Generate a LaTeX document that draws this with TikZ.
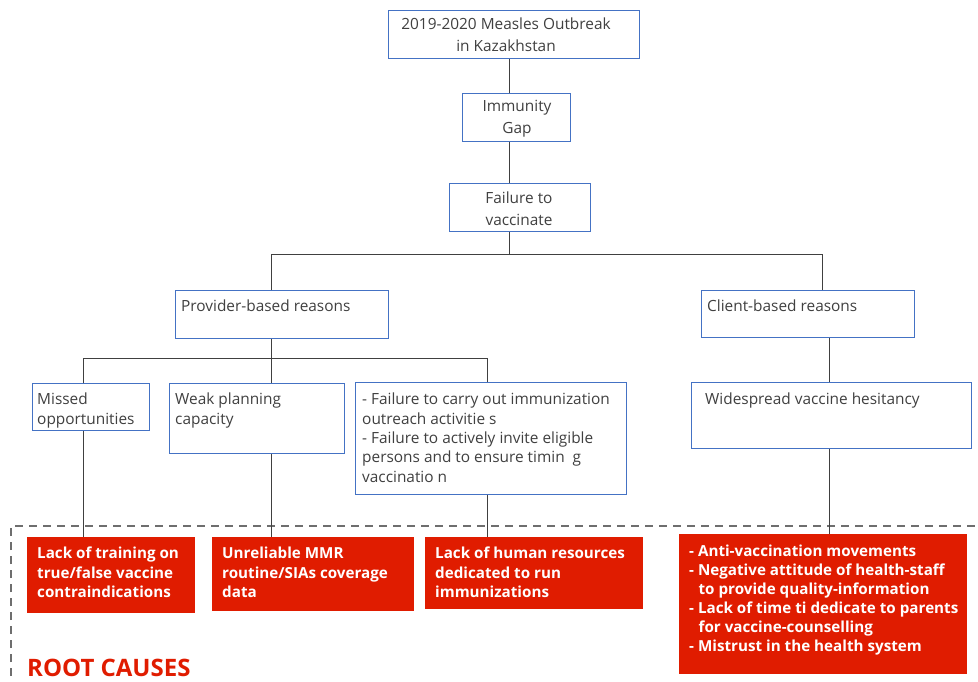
\documentclass[tikz,border=0pt]{standalone}
\usepackage{fontspec}
\setmainfont{Open Sans}
\definecolor{boxblue}{RGB}{68,114,196}
\definecolor{txtgray}{RGB}{64,64,64}
\definecolor{rootred}{RGB}{224,28,0}
\definecolor{dashgray}{RGB}{110,110,110}
\begin{document}
\begin{tikzpicture}[x=1pt,y=-1pt,
  box/.style={draw=boxblue,line width=1pt,fill=white,inner sep=0pt,anchor=north west},
  redbox/.style={fill=rootred,draw=none,inner sep=0pt,anchor=north west},
  btext/.style={text=txtgray,font=\fontsize{15.4}{19.3}\selectfont,inner sep=0pt,anchor=north west,align=left},
  ctext/.style={text=txtgray,font=\fontsize{15.4}{22}\selectfont,inner sep=0pt,align=center},
  rtext/.style={text=white,font=\bfseries\fontsize{15.2}{19.3}\selectfont,inner sep=0pt,anchor=north west,align=left},
  link/.style={draw=txtgray,line width=0.9pt}]
\useasboundingbox (0,0) rectangle (978,681);
% root-cause frame
\draw[dashgray,line width=1.3pt,dash pattern=on 8pt off 6pt] (11,690) -- (11,526) -- (990,526);
% boxes
\node[box,minimum width=251pt,minimum height=48pt] (top) at (388,10) {};
\node[box,minimum width=108pt,minimum height=48pt] (imm) at (462,93) {};
\node[box,minimum width=141pt,minimum height=48pt] (fail) at (449,183) {};
\node[box,minimum width=213pt,minimum height=48pt] (prov) at (175,290) {};
\node[box,minimum width=213pt,minimum height=47pt] (cli) at (701,290) {};
\node[box,minimum width=117pt,minimum height=47pt] (miss) at (32,383) {};
\node[box,minimum width=175pt,minimum height=70pt] (weak) at (169,383) {};
\node[box,minimum width=271pt,minimum height=112pt] (out) at (355,382) {};
\node[box,minimum width=280pt,minimum height=66pt] (hes) at (691,382) {};
\node[redbox,minimum width=168pt,minimum height=76pt] (r1) at (27,537) {};
\node[redbox,minimum width=202pt,minimum height=74pt] (r2) at (212,537) {};
\node[redbox,minimum width=218pt,minimum height=72pt] (r3) at (425,537) {};
\node[redbox,minimum width=288pt,minimum height=140pt] (r4) at (679,534) {};
% texts
\node[ctext] (ttop) at (506,34.5) {2019-2020 Measles Outbreak\\in Kazakhstan};
\node[ctext] (timm) at (517,119) {Immunity\\Gap};
\node[ctext] (tfail) at (519,209) {Failure to\\vaccinate};
\node[btext] (tprov) at (181,300) {Provider-based reasons};
\node[btext] (tcli) at (707,300) {Client-based reasons};
\node[btext] (tmiss) at (37,393) {Missed\\opportunities};
\node[btext] (tweak) at (175,393) {Weak planning\\capacity};
\node[btext] (tout) at (362,393) {- Failure to carry out immunization\\outreach activitie s\\- Failure to actively invite eligible\\persons and to ensure timin\ \ g\\vaccinatio n};
\node[btext] (thes) at (705,393) {Widespread vaccine hesitancy};
\node[rtext] (tr1) at (37,547) {Lack of training on\\true/false vaccine\\contraindications};
\node[rtext] (tr2) at (222,547) {Unreliable MMR\\routine/SIAs coverage\\data};
\node[rtext] (tr3) at (435,547) {Lack of human resources\\dedicated to run\\immunizations};
\node[rtext,font=\bfseries\fontsize{15.2}{19}\selectfont] (tr4) at (689,545) {- Anti-vaccination movements\\- Negative attitude of health-staff\\\hspace*{0.62em}to provide quality-information\\- Lack of time ti dedicate to parents\\\hspace*{0.62em}for vaccine-counselling\\- Mistrust in the health system};
\node[text=rootred,font=\bfseries\fontsize{24}{28}\selectfont,inner sep=0pt,anchor=base west] (root) at (27,676) {ROOT CAUSES};
% connectors
\coordinate (trunk) at (509,0);
\coordinate (jA) at (271,254);
\coordinate (jB) at (822,254);
\coordinate (jC) at (83,358);
\coordinate (jD) at (487,358);
\coordinate (jH) at (829,0);
\draw[link] (trunk |- top.south) -- (trunk |- imm.north);
\draw[link] (trunk |- imm.south) -- (trunk |- fail.north);
\draw[link] (trunk |- fail.south) -- (trunk |- jA);
\draw[link] (jA |- prov.north) -- (jA) -- (jB) -- (jB |- cli.north);
\draw[link] (jA |- prov.south) -- (jA |- jC);
\draw[link] (jC |- miss.north) -- (jC) -- (jD) -- (jD |- out.north);
\draw[link] (jA |- jC) -- (jA |- weak.north);
\draw[link] (jC |- miss.south) -- (jC |- r1.north);
\draw[link] (jA |- weak.south) -- (jA |- r2.north);
\draw[link] (jD |- out.south) -- (jD |- r3.north);
\draw[link] (cli.south -| jH) -- (hes.north -| jH);
\draw[link] (hes.south -| jH) -- (r4.north -| jH);
\end{tikzpicture}
\end{document}
